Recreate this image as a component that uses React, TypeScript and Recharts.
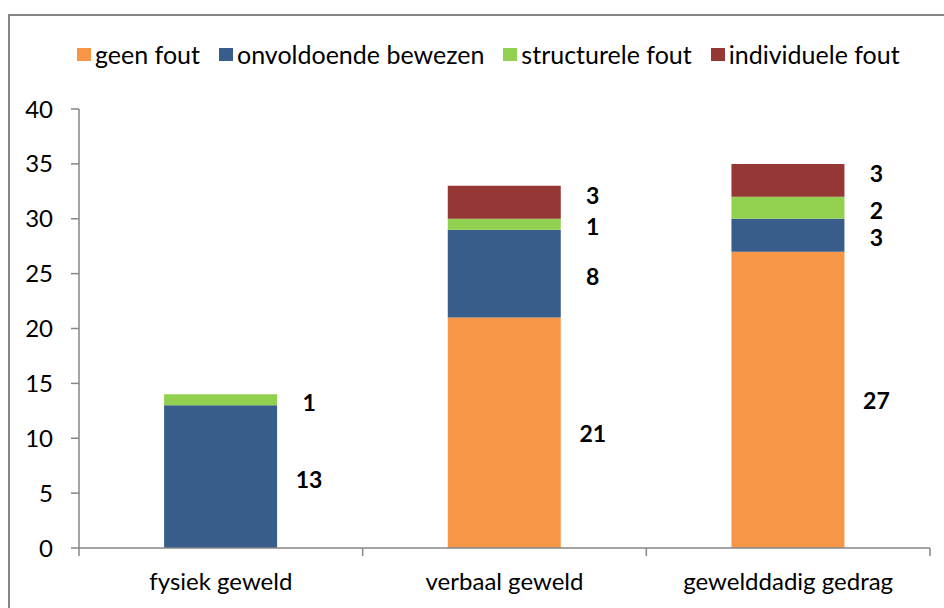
import { Bar, BarChart, LabelList, XAxis, YAxis } from "recharts";

// Stacked counts per type of incident.
const categories = ["fysiek geweld", "verbaal geweld", "gewelddadig gedrag"];
const geenFout = [0, 21, 27];
const onvoldoendeBewezen = [13, 8, 3];
const structureleFout = [1, 1, 2];
const individueleFout = [0, 3, 3];
const yTicks = [0, 5, 10, 15, 20, 25, 30, 35, 40];

const series = [
  { key: "geen", name: "geen fout", color: "#F79646", values: geenFout },
  { key: "onvoldoende", name: "onvoldoende bewezen", color: "#385D8A", values: onvoldoendeBewezen },
  { key: "structureel", name: "structurele fout", color: "#92D050", values: structureleFout },
  { key: "individueel", name: "individuele fout", color: "#953735", values: individueleFout },
];

// small vertical nudges, like Excel's hand-placed labels, so thin segments
// don't have their numbers collide
const labelNudge: Record<string, number> = {
  geen: 0,
  onvoldoende: 2,
  structureel: 2,
  individueel: -7,
};

const data = categories.map((name, i) => {
  const row: Record<string, string | number> = { name };
  series.forEach((s) => {
    row[s.key] = s.values[i];
  });
  return row;
});

const FONT = "Lato, 'Open Sans', sans-serif";
const AXIS = "#868686";
const X_TICK_MARGIN = 25;
const TICK_LEN = 8;

const makeLabel = (key: string) => (props: any) => {
  const { x, y, width, height, value } = props;
  if (!value) return null; // zero-height segments get no label
  return (
    <text
      x={Number(x) + Number(width) + 32}
      y={Number(y) + Number(height) / 2 + labelNudge[key]}
      textAnchor="middle"
      dominantBaseline="central"
      fontFamily={FONT}
      fontWeight="bold"
      fontSize={23}
      fill="#000"
    >
      {value}
    </text>
  );
};

// Excel puts the x tick marks on the category boundaries, not the centres.
// payload.offset is half the band width, so the edges come from the scale.
function CategoryTick(props: any) {
  const { x, y, payload, index, visibleTicksCount } = props;
  const half = Number(payload?.offset) || 0;
  const axisY = Number(y) - X_TICK_MARGIN;
  const isLast = index === (visibleTicksCount ?? categories.length) - 1;
  return (
    <g>
      <line
        x1={x - half}
        x2={x - half}
        y1={axisY}
        y2={axisY + TICK_LEN}
        stroke={AXIS}
        strokeWidth={1.5}
      />
      {isLast && (
        <line
          x1={x + half}
          x2={x + half}
          y1={axisY}
          y2={axisY + TICK_LEN}
          stroke={AXIS}
          strokeWidth={1.5}
        />
      )}
      <text
        x={x}
        y={y}
        dy="0.71em"
        textAnchor="middle"
        fill="#000"
        fontSize={24}
        fontFamily={FONT}
      >
        {payload.value}
      </text>
    </g>
  );
}

export default function App() {
  return (
    <div
      style={{
        position: "fixed",
        left: 0,
        top: 0,
        width: 944,
        height: 608,
        overflow: "hidden",
        background: "#fff",
        fontFamily: FONT,
      }}
    >
      {/* chart frame, right and bottom edges run off the picture */}
      <div
        style={{
          position: "absolute",
          left: 8,
          top: 14,
          width: 960,
          height: 640,
          border: `2px solid ${AXIS}`,
        }}
      />

      <div
        style={{
          position: "absolute",
          left: 77,
          top: 39,
          display: "flex",
          gap: 19,
          fontSize: 25,
          color: "#000",
          whiteSpace: "nowrap",
        }}
      >
        {series.map((s) => (
          <span key={s.key} style={{ display: "inline-flex", alignItems: "center" }}>
            <span
              style={{
                display: "inline-block",
                width: 14,
                height: 13,
                background: s.color,
                marginRight: 4,
              }}
            />
            {s.name}
          </span>
        ))}
      </div>

      <BarChart
        width={944}
        height={608}
        data={data}
        margin={{ top: 109, right: 14, bottom: 0, left: 0 }}
        barCategoryGap="30%"
        style={{ position: "absolute", left: 0, top: 0 }}
      >
        <XAxis
          dataKey="name"
          height={60}
          interval={0}
          axisLine={{ stroke: AXIS, strokeWidth: 1.5 }}
          tickLine={false}
          tickSize={0}
          tickMargin={X_TICK_MARGIN}
          tick={<CategoryTick />}
        />
        <YAxis
          domain={[0, 40]}
          ticks={yTicks}
          width={79}
          tickSize={TICK_LEN}
          tickMargin={18}
          axisLine={{ stroke: AXIS, strokeWidth: 1.5 }}
          tickLine={{ stroke: AXIS, strokeWidth: 1.5 }}
          tick={{ fill: "#000", fontSize: 24, fontFamily: FONT }}
        />
        {series.map((s) => (
          <Bar
            key={s.key}
            dataKey={s.key}
            name={s.name}
            stackId="a"
            fill={s.color}
            isAnimationActive={false}
          >
            <LabelList dataKey={s.key} content={makeLabel(s.key)} />
          </Bar>
        ))}
      </BarChart>
    </div>
  );
}
